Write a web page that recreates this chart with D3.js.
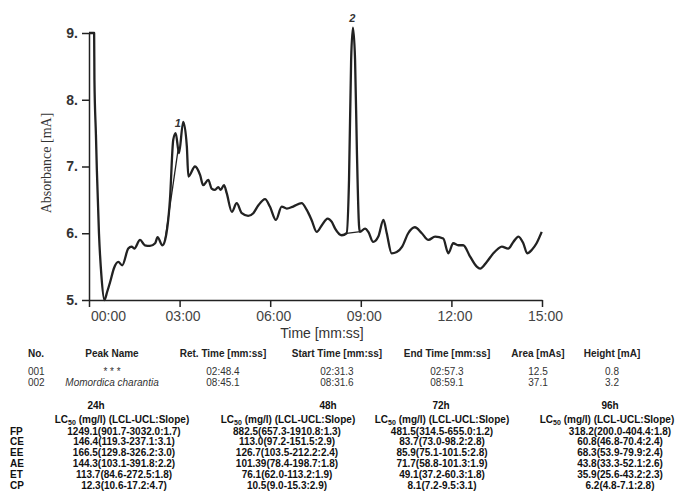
<!DOCTYPE html>
<html lang="en">
<head>
<meta charset="UTF-8">
<title>Chromatogram</title>
<style>
  * { margin: 0; padding: 0; }
  html, body { overflow: hidden; background: #fff; }
</style>
</head>
<body>
<div id="chart"></div>
<script src="https://cdn.jsdelivr.net/npm/d3@7/dist/d3.min.js"></script>
<script>
// trace (time in minutes, absorbance in mA)
const timeMin = [0, 0.17, 0.18, 0.23, 0.26, 0.33, 0.41, 0.51, 0.60, 0.70, 0.83, 0.97, 1.10, 1.30, 1.41, 1.50,
  1.69, 1.85, 2.02, 2.19, 2.27, 2.43, 2.52, 2.68, 2.79, 2.87, 2.98, 3.12, 3.24, 3.29, 3.51, 3.68, 3.78, 3.95,
  4.06, 4.17, 4.28, 4.36, 4.47, 4.56, 4.73, 4.89, 5.06, 5.27, 5.44, 5.61, 5.83, 5.99, 6.19, 6.38, 6.55, 6.76,
  7.04, 7.21, 7.37, 7.54, 7.71, 7.90, 8.04, 8.15, 8.37, 8.53, 8.61, 8.68, 8.74, 8.81, 8.87, 8.94, 8.97, 9.14,
  9.25, 9.41, 9.58, 9.75, 9.86, 10.02, 10.19, 10.37, 10.57, 10.79, 11.02, 11.24, 11.46, 11.73, 11.90, 12.06,
  12.23, 12.39, 12.62, 12.84, 12.95, 13.17, 13.39, 13.55, 13.67, 13.88, 14.05, 14.22, 14.38, 14.51, 14.66,
  14.82, 14.99]
const absorbance = [9.0, 9.0, 8.30, 7.47, 6.95, 6.0, 5.37, 5.0, 5.12, 5.27, 5.48, 5.57, 5.52, 5.77, 5.80, 5.77,
  5.90, 5.82, 5.81, 5.85, 5.94, 5.82, 5.90, 6.50, 7.40, 7.50, 7.20, 7.67, 7.30, 6.85, 7.00, 6.87, 6.72, 6.80,
  6.67, 6.65, 6.69, 6.65, 6.72, 6.60, 6.32, 6.45, 6.30, 6.26, 6.30, 6.42, 6.51, 6.40, 6.20, 6.40, 6.37, 6.40,
  6.45, 6.35, 6.20, 6.02, 6.12, 6.22, 6.17, 6.07, 5.97, 6.00, 6.80, 8.60, 9.08, 8.60, 7.25, 6.12, 6.02, 6.07,
  6.02, 5.87, 5.95, 6.20, 6.00, 5.70, 5.72, 5.80, 6.00, 6.09, 6.00, 5.90, 5.95, 5.92, 5.70, 5.85,
  5.82, 5.82, 5.65, 5.50, 5.47, 5.57, 5.70, 5.77, 5.80, 5.77, 5.87, 5.95, 5.85, 5.70, 5.75,
  5.85, 6.02]

const yTicks = [5, 6, 7, 8, 9]
const xTicks = [0, 3, 6, 9, 12, 15]

// peak table
const peakNo = ['001', '002']
const peakName = ['* * *', 'Momordica charantia']
const retTime = ['02:48.4', '08:45.1']
const startTime = ['02:31.3', '08:31.6']
const endTime = ['02:57.3', '08:59.1']
const peakArea = ['12.5', '37.1']
const peakHeight = ['0.8', '3.2']

// LC50 table
const lcHours = ['24h', '48h', '72h', '96h']
const lcRows = ['FP', 'CE', 'EE', 'AE', 'ET', 'CP']
const lc24 = ['1249.1(901.7-3032.0:1.7)', '146.4(119.3-237.1:3.1)', '166.5(129.8-326.2:3.0)',
  '144.3(103.1-391.8:2.2)', '113.7(84.6-272.5:1.8)', '12.3(10.6-17.2:4.7)']
const lc48 = ['882.5(657.3-1910.8:1.3)', '113.0(97.2-151.5:2.9)', '126.7(103.5-212.2:2.4)',
  '101.39(78.4-198.7:1.8)', '76.1(62.0-113.2:1.9)', '10.5(9.0-15.3:2.9)']
const lc72 = ['481.5(314.5-655.0:1.2)', '83.7(73.0-98.2:2.8)', '85.9(75.1-101.5:2.8)',
  '71.7(58.8-101.3:1.9)', '49.1(37.2-60.3:1.8)', '8.1(7.2-9.5:3.1)']
const lc96 = ['318.2(200.0-404.4:1.8)', '60.8(46.8-70.4:2.4)', '68.3(53.9-79.9:2.4)',
  '43.8(33.3-52.1:2.6)', '35.9(25.6-43.2:2.3)', '6.2(4.8-7.1:2.8)']

function toMin(s) {
  const [m, rest] = s.split(':')
  return +m + (+rest) / 60
}

function drawChart() {
  const width = 685
  const height = 497
  const font = 'Arial, "Liberation Sans", sans-serif'
  const ink = '#222'

  const svg = d3.select('#chart')
    .append('svg')
    .attr('width', width)
    .attr('height', height)
    .style('background', '#fff')
    .attr('font-family', font)

  const x = d3.scaleLinear().domain([0, 15]).range([89, 542])
  const y = d3.scaleLinear().domain([5, 9]).range([300, 33])

  const data = timeMin.map((t, i) => ({ t, a: absorbance[i] }))

  // y axis
  const yAxis = svg.append('g')
    .attr('transform', `translate(${x(0)},0)`)
    .call(d3.axisLeft(y).tickValues(yTicks).tickSize(7).tickPadding(4)
      .tickSizeOuter(0).tickFormat(d => d + '.'))
  yAxis.selectAll('path, line').attr('stroke', ink).attr('stroke-width', 1.5)
  yAxis.selectAll('text').attr('font-family', font).attr('font-size', 14)
    .attr('font-weight', 'bold').attr('fill', '#333')

  // x axis
  const xAxis = svg.append('g')
    .attr('transform', `translate(0,${y(5)})`)
    .call(d3.axisBottom(x).tickValues(xTicks).tickSize(7).tickPadding(4)
      .tickSizeOuter(0).tickFormat(d => d3.format('02')(d) + ':00'))
  xAxis.selectAll('path, line').attr('stroke', ink).attr('stroke-width', 1.5)
  xAxis.selectAll('text').attr('font-family', font).attr('font-size', 14)
    .attr('fill', '#444')
    .attr('dx', d => d === 0 ? 19 : 3)

  // axis titles
  svg.append('text')
    .attr('x', 322).attr('y', 338)
    .attr('text-anchor', 'middle')
    .attr('font-size', 14).attr('fill', '#333')
    .text('Time [mm:ss]')

  svg.append('text')
    .attr('transform', 'translate(51,163) rotate(-90)')
    .attr('text-anchor', 'middle')
    .attr('font-family', '"Liberation Serif", "DejaVu Serif", serif')
    .attr('font-size', 14).attr('fill', '#333')
    .text('Absorbance [mA]')

  // trace
  const line = d3.line().x(d => x(d.t)).y(d => y(d.a)).curve(d3.curveMonotoneX)
  svg.append('path')
    .datum(data)
    .attr('d', line)
    .attr('fill', 'none')
    .attr('stroke', ink)
    .attr('stroke-width', 2.3)
    .attr('stroke-linejoin', 'round')

  // integration baselines of the two peaks
  const absAt = t => {
    const i = d3.bisector(d => d.t).right(data, t)
    const a = data[Math.max(0, i - 1)], b = data[Math.min(data.length - 1, i)]
    return a.t === b.t ? a.a : a.a + (b.a - a.a) * (t - a.t) / (b.t - a.t)
  }
  startTime.forEach((s, i) => {
    const t0 = toMin(s), t1 = toMin(endTime[i])
    svg.append('line')
      .attr('x1', x(t0)).attr('y1', y(absAt(t0)))
      .attr('x2', x(t1)).attr('y2', y(absAt(t1)))
      .attr('stroke', ink).attr('stroke-width', 1.3)
  })

  // peak numbers
  retTime.forEach((r, i) => {
    const t = toMin(r)
    const near = data.filter(d => Math.abs(d.t - t) < 0.25)
    const top = d3.max(near, d => d.a)
    svg.append('text')
      .attr('x', x(t) + (i === 0 ? 4 : -1))
      .attr('y', y(top) - 6)
      .attr('text-anchor', 'middle')
      .attr('font-size', 11).attr('font-style', 'italic').attr('font-weight', 'bold')
      .attr('fill', '#333')
      .text(i + 1)
  })

  // peak table
  const cols = [
    { head: 'No.', vals: peakNo, x: 28, anchor: 'start' },
    { head: 'Peak Name', vals: peakName, x: 112, anchor: 'middle' },
    { head: 'Ret. Time [mm:ss]', vals: retTime, x: 223, anchor: 'middle' },
    { head: 'Start Time [mm:ss]', vals: startTime, x: 337, anchor: 'middle' },
    { head: 'End Time [mm:ss]', vals: endTime, x: 447, anchor: 'middle' },
    { head: 'Area [mAs]', vals: peakArea, x: 538, anchor: 'middle' },
    { head: 'Height [mA]', vals: peakHeight, x: 612, anchor: 'middle' }
  ]
  cols.forEach(c => {
    svg.append('text')
      .attr('x', c.x).attr('y', 357)
      .attr('text-anchor', c.anchor)
      .attr('font-size', 10).attr('font-weight', 'bold').attr('fill', '#222')
      .text(c.head)
    c.vals.forEach((v, i) => {
      svg.append('text')
        .attr('x', c.x).attr('y', 375 + i * 11)
        .attr('text-anchor', c.anchor)
        .attr('font-size', 10).attr('fill', '#333')
        .attr('font-style', c.head === 'Peak Name' && i === 1 ? 'italic' : 'normal')
        .text(v)
    })
  })

  // LC50 table
  const lcCols = [
    { vals: lc24, hx: 96, lx: 122, vx: 124 },
    { vals: lc48, hx: 328, lx: 288, vx: 287 },
    { vals: lc72, hx: 441, lx: 442, vx: 442 },
    { vals: lc96, hx: 610, lx: 607, vx: 620 }
  ]
  lcCols.forEach((c, j) => {
    svg.append('text')
      .attr('x', c.hx).attr('y', 409)
      .attr('text-anchor', 'middle')
      .attr('font-size', 10).attr('font-weight', 'bold').attr('fill', '#111')
      .text(lcHours[j])
    const h = svg.append('text')
      .attr('x', c.lx).attr('y', 423)
      .attr('text-anchor', 'middle')
      .attr('font-size', 10).attr('font-weight', 'bold').attr('fill', '#111')
    h.append('tspan').text('LC')
    h.append('tspan').attr('font-size', 7).attr('dy', 2).text('50')
    h.append('tspan').attr('dy', -2).text(' (mg/l) (LCL-UCL:Slope)')
    c.vals.forEach((v, i) => {
      svg.append('text')
        .attr('x', c.vx).attr('y', 434.5 + i * 10.8)
        .attr('text-anchor', 'middle')
        .attr('font-size', 10).attr('font-weight', 'bold').attr('fill', '#111')
        .text(v)
    })
  })
  lcRows.forEach((r, i) => {
    svg.append('text')
      .attr('x', 10).attr('y', 434.5 + i * 10.8)
      .attr('font-size', 10).attr('font-weight', 'bold').attr('fill', '#111')
      .text(r)
  })
}

drawChart()
</script>
</body>
</html>
